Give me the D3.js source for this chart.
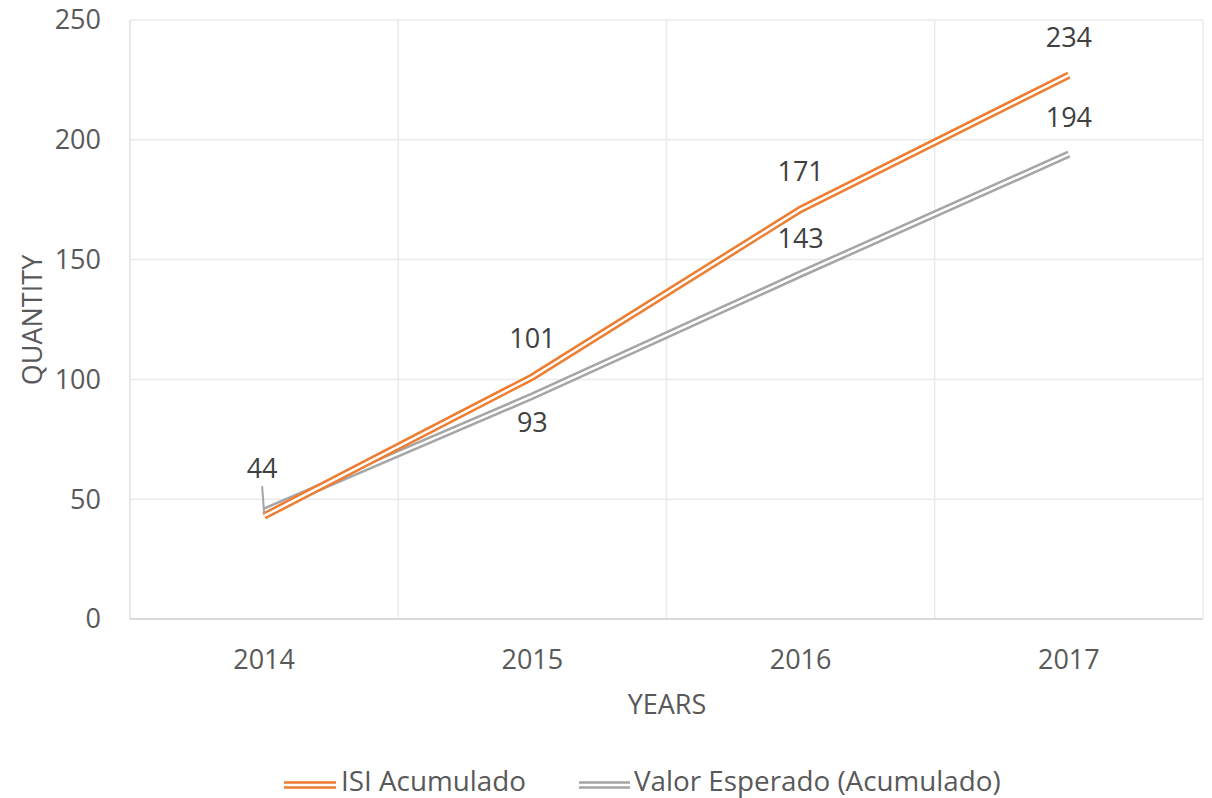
<!DOCTYPE html>
<html><head><meta charset="utf-8">
<script src="https://cdn.jsdelivr.net/npm/d3@7"></script>
<style>body{margin:0;background:#fff}svg{display:block}text{font-family:"Open Sans",sans-serif;fill:#595959}</style>
</head><body><svg id="c" width="1212" height="798"></svg>
<script>
const years = ["2014","2015","2016","2017"];
const isiValues = [43, 101, 171, 227];
const isiLabels = ["", "101", "171", "234"];
const espValues = [45, 93, 144, 194];
const espLabels = ["44", "93", "143", "194"];
const yTicks = [0, 50, 100, 150, 200, 250];
const seriesNames = ["ISI Acumulado", "Valor Esperado (Acumulado)"];
const colors = ["#ed7d31", "#a5a5a5"];

const FS = 27;
const svg = d3.select("#c");
const m = {l:130, r:1203, t:20, b:619};
const x = d3.scaleBand().domain(years).range([m.l, m.r]);
const y = d3.scaleLinear().domain([0, 250]).range([m.b, m.t]);
const cx = d => x(d) + x.bandwidth()/2;

// gridlines
svg.append("g").selectAll("line").data(yTicks.slice(1)).join("line")
  .attr("x1", m.l).attr("x2", m.r).attr("y1", d=>y(d)).attr("y2", d=>y(d))
  .attr("stroke", "#ebebeb").attr("stroke-width", 1.5);
const bounds = years.map(d => x(d)).concat([m.r]);
svg.append("g").selectAll("line").data(bounds.slice(1)).join("line")
  .attr("x1", d=>d).attr("x2", d=>d).attr("y1", m.t).attr("y2", m.b)
  .attr("stroke", "#ebebeb").attr("stroke-width", 1.5);
svg.append("line").attr("x1", m.l).attr("x2", m.l).attr("y1", m.t).attr("y2", m.b)
  .attr("stroke", "#e0e0e0").attr("stroke-width", 1.5);
svg.append("line").attr("x1", m.l).attr("x2", m.r).attr("y1", m.b).attr("y2", m.b)
  .attr("stroke", "#d9d9d9").attr("stroke-width", 2);

// y ticks
svg.append("g").selectAll("text").data(yTicks).join("text")
  .attr("x", 101).attr("y", d=>y(d)).attr("dy", "0.35em").attr("text-anchor","end")
  .attr("font-size", FS).text(d=>d);
// x ticks
svg.append("g").selectAll("text").data(years).join("text")
  .attr("x", d=>cx(d)).attr("y", 660).attr("dy","0.35em").attr("text-anchor","middle")
  .attr("font-size", FS).text(d=>d);
// axis titles
svg.append("text").attr("transform","translate(33,320) rotate(-90)").attr("dy","0.35em")
  .attr("text-anchor","middle").attr("font-size",FS).text("QUANTITY");
svg.append("text").attr("x",667).attr("y",705).attr("dy","0.35em")
  .attr("text-anchor","middle").attr("font-size",FS).text("YEARS");

// double lines
const line = d3.line().x((d,i)=>cx(years[i])).y(d=>y(d));
function dbl(g, vals, col){
  g.append("path").attr("d", line(vals)).attr("fill","none").attr("stroke",col).attr("stroke-width",7.5);
  g.append("path").attr("d", line(vals)).attr("fill","none").attr("stroke","#fff").attr("stroke-width",2.5);
}
const gl = svg.append("g");
dbl(gl, espValues, colors[1]);
dbl(gl, isiValues, colors[0]);

// labels
svg.append("g").selectAll("text").data(isiValues).join("text")
  .attr("x",(d,i)=>cx(years[i])).attr("y",d=>y(d)-38).attr("dy","0.35em")
  .attr("text-anchor","middle").attr("font-size",FS).style("fill","#404040")
  .text((d,i)=>isiLabels[i]);
const espOff = [-43, 26, -35, -37];
svg.append("g").selectAll("text").data(espValues).join("text")
  .attr("x",(d,i)=>cx(years[i]) - (i===0?2:0)).attr("y",(d,i)=>y(d)+espOff[i]).attr("dy","0.35em")
  .attr("text-anchor","middle").style("fill","#404040").attr("font-size",FS)
  .text((d,i)=>espLabels[i]);
// leader line for first label
svg.append("path").attr("d", `M${cx(years[0])-2},${y(espValues[0])-25} L${cx(years[0])},${y(espValues[0])+2}`)
  .attr("stroke","#a5a5a5").attr("stroke-width",2).attr("fill","none");

// legend
const leg = [{x:284, w:52, tx:341}, {x:579, w:51, tx:634}];
seriesNames.forEach((n,i)=>{
  const g = svg.append("g");
  g.append("line").attr("x1",leg[i].x).attr("x2",leg[i].x+leg[i].w).attr("y1",785).attr("y2",785)
    .attr("stroke",colors[i]).attr("stroke-width",7.5);
  g.append("line").attr("x1",leg[i].x).attr("x2",leg[i].x+leg[i].w).attr("y1",785).attr("y2",785)
    .attr("stroke","#fff").attr("stroke-width",2.5);
  g.append("text").attr("x",leg[i].tx).attr("y",791).attr("font-size",27.8).text(n);
});
</script></body></html>
